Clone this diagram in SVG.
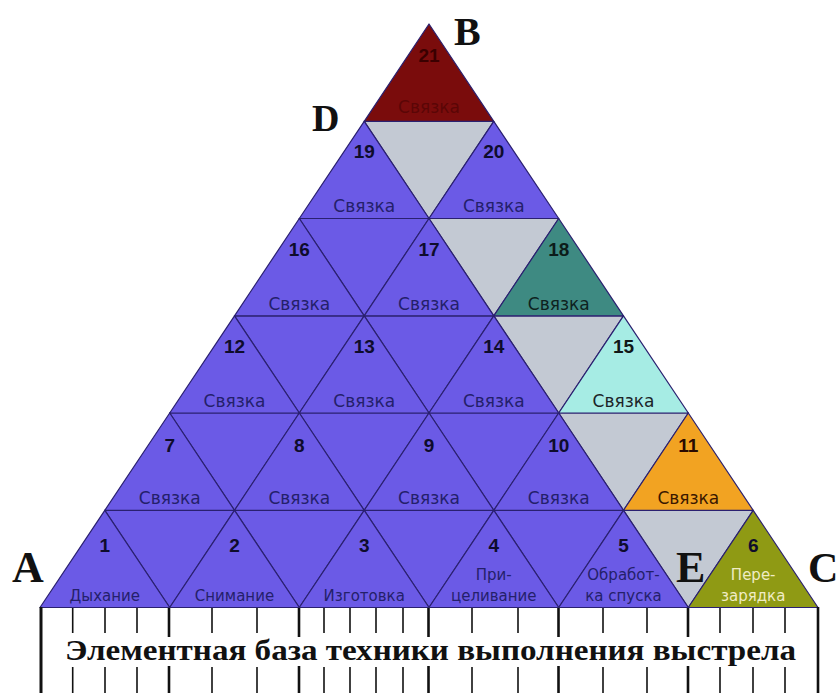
<svg xmlns="http://www.w3.org/2000/svg" width="840" height="693" viewBox="0 0 840 693">
<style>
.t{stroke:#2a2070;stroke-width:1.2;stroke-linejoin:round}
.p{fill:#6b5ae6}.g{fill:#c3c9d3}.r{fill:#7a0c0c}.tl{fill:#3e8a82}.cy{fill:#a6ece4}.or{fill:#f2a322}.ol{fill:#8f9a14}
.n{font-family:"Liberation Sans",Arial,sans-serif;font-weight:bold;font-size:19px;fill:#0e0c2c;text-anchor:middle}
.l{font-family:"DejaVu Sans",Verdana,sans-serif;font-size:17px;fill:#24206a;text-anchor:middle}
.s{font-size:15px}
.big{font-family:"Liberation Serif","Times New Roman",serif;font-weight:bold;font-size:42px;fill:#111}
.tk{stroke:#111;stroke-width:1.6}
.tkb{stroke:#111;stroke-width:2.6}
</style>
<rect width="840" height="693" fill="#fff"/>
<g id="cells-down">
<polygon class="t p" points="104.8,510.3 234.5,510.3 169.7,607.5"/>
<polygon class="t p" points="234.5,510.3 364.2,510.3 299.3,607.5"/>
<polygon class="t p" points="364.2,510.3 493.8,510.3 429,607.5"/>
<polygon class="t p" points="493.8,510.3 623.5,510.3 558.7,607.5"/>
<polygon class="t g" points="623.5,510.3 753.2,510.3 688.3,607.5"/>
<polygon class="t p" points="169.7,413 299.3,413 234.5,510.3"/>
<polygon class="t p" points="299.3,413 429,413 364.2,510.3"/>
<polygon class="t p" points="429,413 558.7,413 493.8,510.3"/>
<polygon class="t g" points="558.7,413 688.3,413 623.5,510.3"/>
<polygon class="t p" points="234.5,315.8 364.2,315.8 299.3,413"/>
<polygon class="t p" points="364.2,315.8 493.8,315.8 429,413"/>
<polygon class="t g" points="493.8,315.8 623.5,315.8 558.7,413"/>
<polygon class="t p" points="299.3,218.5 429,218.5 364.2,315.8"/>
<polygon class="t g" points="429,218.5 558.7,218.5 493.8,315.8"/>
<polygon class="t g" points="364.2,121.3 493.8,121.3 429,218.5"/>
</g>
<g id="n1"><polygon class="t p" points="40,607.5 169.7,607.5 104.8,510.3"/><text class="n" x="104.8" y="552">1</text><text class="l s" x="104.8" y="601">Дыхание</text></g>
<g id="n2"><polygon class="t p" points="169.7,607.5 299.3,607.5 234.5,510.3"/><text class="n" x="234.5" y="552">2</text><text class="l s" x="234.5" y="601">Снимание</text></g>
<g id="n3"><polygon class="t p" points="299.3,607.5 429,607.5 364.2,510.3"/><text class="n" x="364.2" y="552">3</text><text class="l s" x="364.2" y="601">Изготовка</text></g>
<g id="n4"><polygon class="t p" points="429,607.5 558.7,607.5 493.8,510.3"/><text class="n" x="493.8" y="552">4</text><text class="l s" x="493.8" y="580">При-</text><text class="l s" x="493.8" y="601">целивание</text></g>
<g id="n5"><polygon class="t p" points="558.7,607.5 688.3,607.5 623.5,510.3"/><text class="n" x="623.5" y="552">5</text><text class="l s" x="623.5" y="580">Обработ-</text><text class="l s" x="623.5" y="601">ка спуска</text></g>
<g id="n6"><polygon class="t ol" points="688.3,607.5 818,607.5 753.2,510.3"/><text class="n" x="753.2" y="552">6</text><text class="l s" x="753.2" y="580" style="fill:#f0ecc4">Пере-</text><text class="l s" x="753.2" y="601" style="fill:#f0ecc4">зарядка</text></g>
<g id="n7"><polygon class="t p" points="104.8,510.3 234.5,510.3 169.7,413"/><text class="n" x="169.7" y="452">7</text><text class="l" x="169.7" y="503.5">Связка</text></g>
<g id="n8"><polygon class="t p" points="234.5,510.3 364.2,510.3 299.3,413"/><text class="n" x="299.3" y="452">8</text><text class="l" x="299.3" y="503.5">Связка</text></g>
<g id="n9"><polygon class="t p" points="364.2,510.3 493.8,510.3 429,413"/><text class="n" x="429" y="452">9</text><text class="l" x="429" y="503.5">Связка</text></g>
<g id="n10"><polygon class="t p" points="493.8,510.3 623.5,510.3 558.7,413"/><text class="n" x="558.7" y="452">10</text><text class="l" x="558.7" y="503.5">Связка</text></g>
<g id="n11"><polygon class="t or" points="623.5,510.3 753.2,510.3 688.3,413"/><text class="n" x="688.3" y="452" style="fill:#2a0a00">11</text><text class="l" x="688.3" y="503.5" style="fill:#3a1800">Связка</text></g>
<g id="n12"><polygon class="t p" points="169.7,413 299.3,413 234.5,315.8"/><text class="n" x="234.5" y="353">12</text><text class="l" x="234.5" y="406.5">Связка</text></g>
<g id="n13"><polygon class="t p" points="299.3,413 429,413 364.2,315.8"/><text class="n" x="364.2" y="353">13</text><text class="l" x="364.2" y="406.5">Связка</text></g>
<g id="n14"><polygon class="t p" points="429,413 558.7,413 493.8,315.8"/><text class="n" x="493.8" y="353">14</text><text class="l" x="493.8" y="406.5">Связка</text></g>
<g id="n15"><polygon class="t cy" points="558.7,413 688.3,413 623.5,315.8"/><text class="n" x="623.5" y="353" style="fill:#101818">15</text><text class="l" x="623.5" y="406.5" style="fill:#1c2428">Связка</text></g>
<g id="n16"><polygon class="t p" points="234.5,315.8 364.2,315.8 299.3,218.5"/><text class="n" x="299.3" y="255.5">16</text><text class="l" x="299.3" y="309.5">Связка</text></g>
<g id="n17"><polygon class="t p" points="364.2,315.8 493.8,315.8 429,218.5"/><text class="n" x="429" y="255.5">17</text><text class="l" x="429" y="309.5">Связка</text></g>
<g id="n18"><polygon class="t tl" points="493.8,315.8 623.5,315.8 558.7,218.5"/><text class="n" x="558.7" y="255.5" style="fill:#0c1c1a">18</text><text class="l" x="558.7" y="309.5" style="fill:#0e2220">Связка</text></g>
<g id="n19"><polygon class="t p" points="299.3,218.5 429,218.5 364.2,121.3"/><text class="n" x="364.2" y="158">19</text><text class="l" x="364.2" y="212">Связка</text></g>
<g id="n20"><polygon class="t p" points="429,218.5 558.7,218.5 493.8,121.3"/><text class="n" x="493.8" y="158">20</text><text class="l" x="493.8" y="212">Связка</text></g>
<g id="n21"><polygon class="t r" points="364.2,121.3 493.8,121.3 429,24"/><text class="n" x="429" y="62" style="fill:#3a0000">21</text><text class="l" x="429" y="113" style="fill:#5a0606">Связка</text></g>
<g id="connectors">
<rect x="41" y="607.5" width="777" height="86" fill="#fff"/>
<line class="t" x1="40" y1="607.5" x2="818" y2="607.5"/>
<line x1="41" y1="607" x2="41" y2="693" stroke="#111" stroke-width="3"/>
<line x1="818" y1="607" x2="818" y2="693" stroke="#111" stroke-width="2.6"/>
<g class="tkb">
<line x1="169" y1="608" x2="169" y2="637"/><line x1="169" y1="666" x2="169" y2="693"/>
<line x1="299" y1="608" x2="299" y2="637"/><line x1="299" y1="666" x2="299" y2="693"/>
<line x1="428.5" y1="608" x2="428.5" y2="637"/><line x1="428.5" y1="666" x2="428.5" y2="693"/>
<line x1="558.5" y1="608" x2="558.5" y2="637"/><line x1="558.5" y1="666" x2="558.5" y2="693"/>
<line x1="688" y1="608" x2="688" y2="637"/><line x1="688" y1="666" x2="688" y2="693"/>
</g>
<g class="tk">
<line x1="72.7" y1="608" x2="72.7" y2="633"/><line x1="72.7" y1="667" x2="72.7" y2="693"/>
<line x1="105" y1="608" x2="105" y2="633"/><line x1="105" y1="667" x2="105" y2="693"/>
<line x1="137" y1="608" x2="137" y2="633"/><line x1="137" y1="667" x2="137" y2="693"/>
<line x1="212" y1="608" x2="212" y2="633"/><line x1="212" y1="667" x2="212" y2="693"/>
<line x1="257" y1="608" x2="257" y2="633"/><line x1="257" y1="667" x2="257" y2="693"/>
<line x1="324" y1="608" x2="324" y2="633"/><line x1="324" y1="667" x2="324" y2="693"/>
<line x1="350" y1="608" x2="350" y2="633"/><line x1="350" y1="667" x2="350" y2="693"/>
<line x1="376" y1="608" x2="376" y2="633"/><line x1="376" y1="667" x2="376" y2="693"/>
<line x1="403" y1="608" x2="403" y2="633"/><line x1="403" y1="667" x2="403" y2="693"/>
<line x1="472" y1="608" x2="472" y2="633"/><line x1="472" y1="667" x2="472" y2="693"/>
<line x1="518" y1="608" x2="518" y2="633"/><line x1="518" y1="667" x2="518" y2="693"/>
<line x1="603" y1="608" x2="603" y2="633"/><line x1="603" y1="667" x2="603" y2="693"/>
<line x1="647" y1="608" x2="647" y2="633"/><line x1="647" y1="667" x2="647" y2="693"/>
<line x1="720" y1="608" x2="720" y2="633"/><line x1="720" y1="667" x2="720" y2="693"/>
<line x1="753" y1="608" x2="753" y2="633"/><line x1="753" y1="667" x2="753" y2="693"/>
<line x1="785" y1="608" x2="785" y2="633"/><line x1="785" y1="667" x2="785" y2="693"/>
</g>
</g>
<text class="big" x="65" y="660" style="font-size:30px" textLength="731" lengthAdjust="spacingAndGlyphs">Элементная база техники выполнения выстрела</text>
<text class="big" x="12" y="582" style="font-size:44px">A</text>
<text class="big" x="454" y="45" style="font-size:40px">B</text>
<text class="big" x="808" y="582" style="font-size:42px">C</text>
<text class="big" x="312" y="131" style="font-size:38px">D</text>
<text class="big" x="676" y="582" style="font-size:44px">E</text>
</svg>
